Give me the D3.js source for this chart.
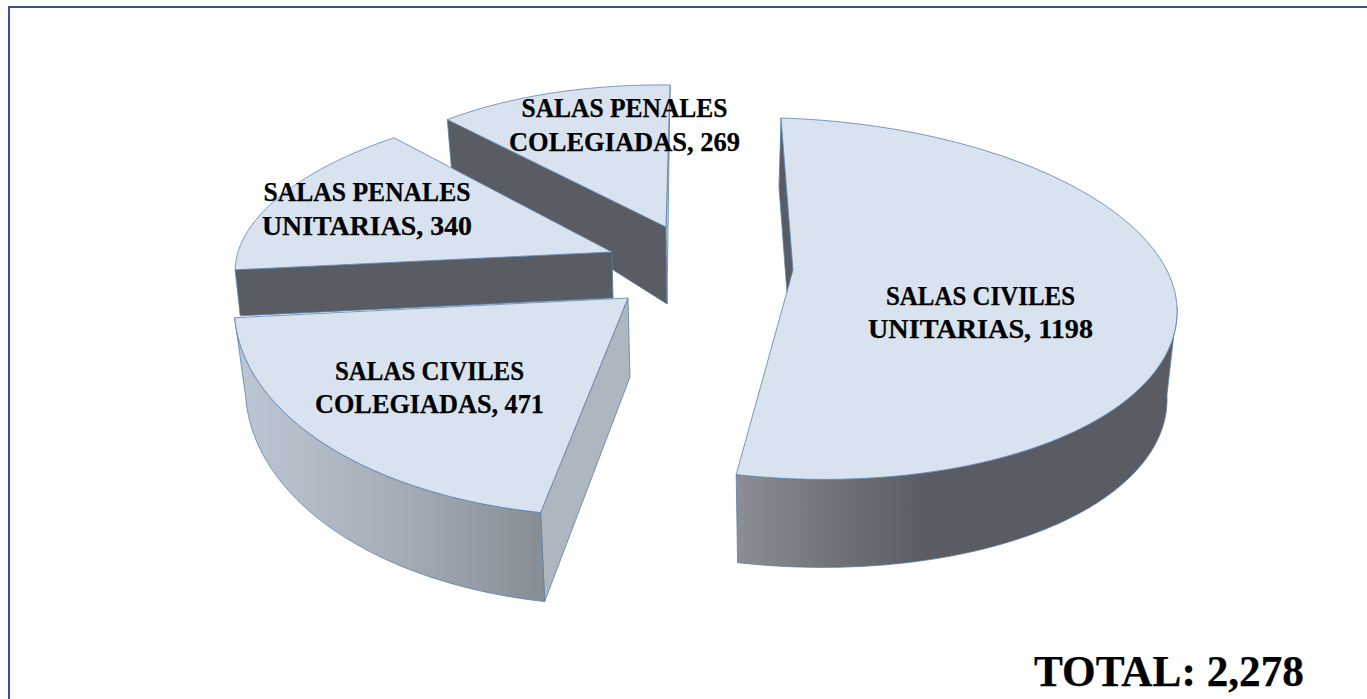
<!DOCTYPE html>
<html><head><meta charset="utf-8">
<script src="https://cdn.jsdelivr.net/npm/d3@7/dist/d3.min.js"></script>
<style>html,body{margin:0;padding:0;background:#fff;overflow:hidden}svg{display:block}
text{font-family:"Liberation Serif",serif;font-weight:bold;fill:#000;stroke:#000;stroke-width:.25px}</style>
</head><body>
<svg id="c" width="1367" height="699"></svg>
<script>
// data
const categoryFirstLines = ["SALAS CIVILES","SALAS CIVILES","SALAS PENALES","SALAS PENALES"];
const categorySecondLines = ["UNITARIAS","COLEGIADAS","UNITARIAS","COLEGIADAS"];
const values = [1198,471,340,269];

// layout of each exploded wedge, in pie order
const W = [
 {cx:790,cy:295,ax:793,ay:270,rx:387,ryT:177,ryB:184,skew:-9,tilt:12,
  dx:0,sx:.974,d0:88,k:0,wallFrom:Math.PI/2,
  label:{x:980.5,y:[305,338],w:[189,225]}},
 {cx:628,cy:298,ax:628,ay:298,rx:393,ryT:218,ryB:218,skew:24,tilt:4,
  dx:2,sx:.977,d0:79,k:.047,wallFrom:0,
  label:{x:429.5,y:[380,413],w:[189,229]}},
 {cx:612,cy:252,ax:612,ay:252,rx:374,ryT:155,ryB:164,skew:47,tilt:0,
  dx:1,sx:.989,d0:46,k:0,wallFrom:0,
  label:{x:367,y:[201,235],w:[207,210]}},
 {cx:666,cy:227,ax:666,ay:227,rx:328,ryT:142,ryB:142,skew:4,tilt:4,
  dx:1,sx:.986,d0:77,k:.27,wallFrom:0,
  label:{x:624.5,y:[117,151],w:[206,231]}}
];
const faceFill="#d9e3f0", edge="#5b80aa", darkWall="#595c62", lightWall="#aeb6bf";

const svg=d3.select("#c");
const defs=svg.append("defs");
function grad(id,x1,x2,stops){
  const g=defs.append("linearGradient").attr("id",id).attr("gradientUnits","userSpaceOnUse")
    .attr("x1",x1).attr("x2",x2).attr("y1",0).attr("y2",0);
  stops.forEach(s=>g.append("stop").attr("offset",s[0]).attr("stop-color",s[1]));
}
grad("g0",737,950,[[0,"#8b8e95"],[.45,"#70737a"],[.9,"#595c62"],[1,"#595c62"]]);
grad("g1",240,545,[[0,"#bcc6d2"],[.5,"#a6aeb8"],[1,"#878d95"]]);

const arcs=d3.pie().sort(null).startAngle(0).endAngle(2*Math.PI)(values);
const line=d3.line();

function topPt(w,t){
  return [w.cx+w.rx*Math.sin(t)+w.skew*Math.cos(t),
          w.cy-(Math.cos(t)>=0?w.ryT:w.ryB)*Math.cos(t)+w.tilt*Math.sin(t)];
}
function bottom(w,p){
  return [p[0]+w.dx+(w.sx-1)*(p[0]-w.cx), p[1]+w.d0+w.k*(p[1]-w.cy)];
}
function samples(a,b,n=120){return d3.range(n+1).map(i=>a+(b-a)*i/n);}
function poly(pts,fill,sw=.8){
  svg.append("path").attr("d",line(pts)+"Z").attr("fill",fill)
    .attr("stroke",edge).attr("stroke-width",sw).attr("stroke-linejoin","round");
}

// frame: open on the right and bottom
svg.append("path").attr("d","M1367,7H9V699").attr("fill","none")
  .attr("stroke","#2f5597").attr("stroke-width",2);

// far wedges first
[3,2,1,0].forEach(i=>{
  const w=W[i], a=arcs[i], apex=[w.ax,w.ay], ts=samples(a.startAngle,a.endAngle);
  const rim=ts.map(t=>topPt(w,t));
  const wallRim=samples(Math.max(a.startAngle,w.wallFrom),a.endAngle).map(t=>topPt(w,t));
  const first=rim[0], last=rim[rim.length-1];
  const apexB=bottom(w,apex);
  if(i===3||i===2){
    poly([first,apex,apexB,bottom(w,first)],darkWall);
  }
  if(i===3){
    poly([last,apex,apexB],"#c9d3df",.8);
  }
  if(i===1){
    poly([apex,first,bottom(w,first),apexB],lightWall);
    poly(wallRim.concat(wallRim.map(p=>bottom(w,p)).reverse()),"url(#g1)");
  }
  if(i===0){
    poly([first,apex,[apex[0]-6,apex[1]+23],[first[0]-2,first[1]+69]],darkWall);
    poly(wallRim.concat(wallRim.map(p=>bottom(w,p)).reverse()),"url(#g0)");
  }
  poly([apex].concat(rim),faceFill);
});

// labels
W.forEach((w,i)=>{
  const l=w.label;
  [categoryFirstLines[i],`${categorySecondLines[i]}, ${values[i]}`].forEach((s,j)=>{
    svg.append("text").attr("x",l.x).attr("y",l.y[j]).attr("text-anchor","middle")
      .attr("font-size",27).attr("textLength",l.w[j]).attr("lengthAdjust","spacingAndGlyphs").text(s);
  });
});
svg.append("text").attr("x",1169).attr("y",686).attr("text-anchor","middle")
  .attr("font-size",45).attr("textLength",270).attr("lengthAdjust","spacingAndGlyphs")
  .text("TOTAL: "+d3.format(",")(d3.sum(values)));
</script>
</body></html>
